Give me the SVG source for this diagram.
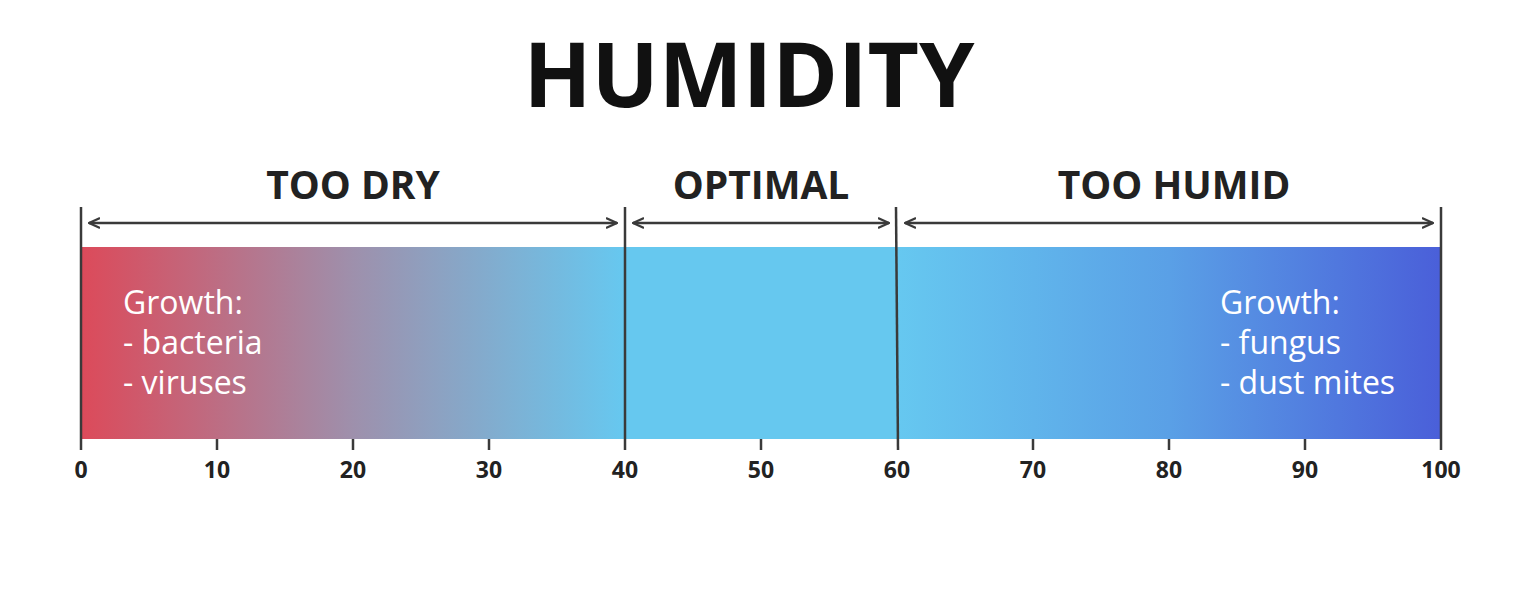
<svg xmlns="http://www.w3.org/2000/svg" width="1537" height="596" viewBox="0 0 1537 596">
<defs>
<linearGradient id="gL" x1="81" y1="0" x2="625" y2="0" gradientUnits="userSpaceOnUse">
<stop offset="0" stop-color="#DC4A5A"/>
<stop offset="0.5" stop-color="#9E90AC"/>
<stop offset="1" stop-color="#66C8F0"/>
</linearGradient>
<linearGradient id="gR" x1="897" y1="0" x2="1441" y2="0" gradientUnits="userSpaceOnUse">
<stop offset="0" stop-color="#66C8F0"/>
<stop offset="0.5" stop-color="#5AA0E6"/>
<stop offset="1" stop-color="#4A5FD9"/>
</linearGradient>
<marker id="ah" viewBox="0 0 12 12" refX="11" refY="6" markerWidth="12" markerHeight="12" markerUnits="userSpaceOnUse" orient="auto-start-reverse">
<path d="M0,1 L11,6 L0,11" fill="none" stroke="#3a3a3a" stroke-width="2.2"/>
</marker>
</defs>
<style>
.title{font-family:"Open Sans",sans-serif;font-weight:700;font-size:89px;fill:#111;text-anchor:middle}
.zone{font-family:"Open Sans",sans-serif;font-weight:700;font-size:39px;fill:#222;text-anchor:middle}
.num{font-family:"Open Sans",sans-serif;font-weight:700;font-size:23px;fill:#222;text-anchor:middle}
.info{font-family:"Open Sans",sans-serif;font-size:32px;fill:#fff}
.ln{stroke:#3a3a3a;stroke-width:2.5;fill:none}
.arr{stroke:#3a3a3a;stroke-width:2.5;fill:none;marker-start:url(#ah);marker-end:url(#ah)}
</style>
<rect width="1537" height="596" fill="#fff"/>
<text class="title" x="749" y="107">HUMIDITY</text>
<g id="bar">
<rect x="81" y="247" width="544" height="192" fill="url(#gL)"/>
<rect x="625" y="247" width="272" height="192" fill="#66C8EF"/>
<rect x="897" y="247" width="544" height="192" fill="url(#gR)"/>
</g>
<g id="zone-dry">
<text class="zone" x="353" y="199">TOO DRY</text>
<g class="info"><text x="123" y="314">Growth:</text><text x="123" y="354">- bacteria</text><text x="123" y="394">- viruses</text></g>
</g>
<g id="zone-optimal">
<text class="zone" x="761" y="199">OPTIMAL</text>
</g>
<g id="zone-humid">
<text class="zone" x="1174" y="199">TOO HUMID</text>
<g class="info"><text x="1220" y="314">Growth:</text><text x="1220" y="354">- fungus</text><text x="1220" y="394">- dust mites</text></g>
</g>
<g id="connectors">
<line class="ln" x1="81" y1="207" x2="81" y2="450"/>
<line class="ln" x1="625" y1="207" x2="625" y2="450"/>
<line class="ln" x1="896" y1="207" x2="898" y2="450"/>
<line class="ln" x1="1441" y1="207" x2="1441" y2="450"/>
<line class="arr" x1="89" y1="223" x2="617" y2="223"/>
<line class="arr" x1="633" y1="223" x2="889" y2="223"/>
<line class="arr" x1="905" y1="223" x2="1433" y2="223"/>
<g class="ln">
<line x1="217" y1="439" x2="217" y2="450"/>
<line x1="353" y1="439" x2="353" y2="450"/>
<line x1="489" y1="439" x2="489" y2="450"/>
<line x1="761" y1="439" x2="761" y2="450"/>
<line x1="1033" y1="439" x2="1033" y2="450"/>
<line x1="1169" y1="439" x2="1169" y2="450"/>
<line x1="1305" y1="439" x2="1305" y2="450"/>
</g>
</g>
<g id="axis-labels">
<text class="num" x="81" y="478">0</text>
<text class="num" x="217" y="478">10</text>
<text class="num" x="353" y="478">20</text>
<text class="num" x="489" y="478">30</text>
<text class="num" x="625" y="478">40</text>
<text class="num" x="761" y="478">50</text>
<text class="num" x="897" y="478">60</text>
<text class="num" x="1033" y="478">70</text>
<text class="num" x="1169" y="478">80</text>
<text class="num" x="1305" y="478">90</text>
<text class="num" x="1441" y="478">100</text>
</g>
</svg>
